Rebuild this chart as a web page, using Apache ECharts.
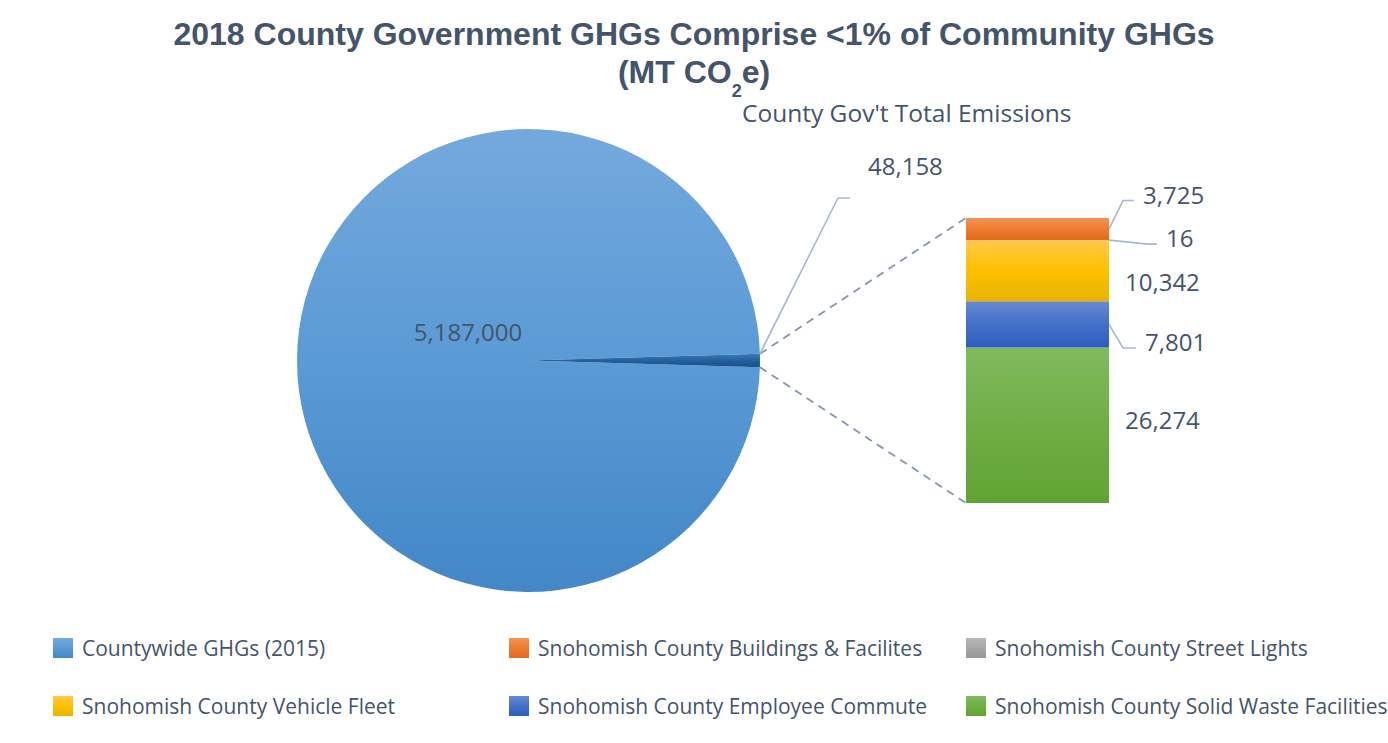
<!DOCTYPE html>
<html>
<head>
<meta charset="utf-8">
<script src="https://cdn.jsdelivr.net/npm/echarts@6/dist/echarts.min.js"></script>
<style>
  html, body { margin: 0; padding: 0; background: #ffffff; }
  #chart { width: 1388px; height: 743px; }
</style>
</head>
<body>
<div id="chart"></div>
<script>
// ---- data -------------------------------------------------------------
const pieNames = ['Countywide GHGs (2015)', "County Gov't Total"];
const pieValues = [5187000, 48158];

// county government breakdown, stacked bottom -> top
const breakdownNames = [
  'Snohomish County Solid Waste Facilities',
  'Snohomish County Employee Commute',
  'Snohomish County Vehicle Fleet',
  'Snohomish County Street Lights',
  'Snohomish County Buildings & Facilites'
];
const breakdownValues = [26274, 7801, 10342, 16, 3725];

const legendOrder = [
  'Countywide GHGs (2015)',
  'Snohomish County Buildings & Facilites',
  'Snohomish County Street Lights',
  'Snohomish County Vehicle Fleet',
  'Snohomish County Employee Commute',
  'Snohomish County Solid Waste Facilities'
];

const titleText = '2018 County Government GHGs Comprise <1% of Community GHGs';
const titleUnit = '(MT CO{sub|2}e)';
const barTitle = "County Gov't Total Emissions";

// ---- styling ----------------------------------------------------------
const TEXT = '#44546A';
const NUM_FONT = 'Open Sans';
const fmt = v => Number(v).toLocaleString('en-US');

const vgrad = stops => new echarts.graphic.LinearGradient(0, 0, 0, 1,
  stops.map(([offset, color]) => ({ offset, color })));

const pieFills = [
  vgrad([[0, '#74A9DD'], [0.5, '#5A9AD5'], [1, '#4387C7']]),
  vgrad([[0, '#3C7AB9'], [0.5, '#22609E'], [1, '#1A4E86']])
];
const barFills = [
  vgrad([[0, '#81BA5F'], [0.5, '#70AE44'], [1, '#61A333']]),   // solid waste
  vgrad([[0, '#6689D3'], [0.5, '#4470C8'], [1, '#2D5DBD']]),   // commute
  vgrad([[0, '#FFC94A'], [0.5, '#FFC000'], [1, '#E7B300']]),   // fleet
  vgrad([[0, '#B8B8B8'], [1, '#969696']]),                      // street lights
  vgrad([[0, '#F3935A'], [0.5, '#EE7C30'], [1, '#E4691B']])    // buildings
];

// label placement next to each stacked block: [dx, dy] from the block's right-middle
const barLabelOffsets = [[0, -6], [20, 17], [0, 10.5], [41, -2.5], [18, -35]];
// leader knee distance from the bar edge (null = no leader)
const barLeaderKnee = [null, 14, null, 39, 14];
const BAR_LABEL_GAP = 16;

const PIE_CX = 528.5, PIE_CY = 360.5, PIE_R = 231.5;
const GRID = { left: 966, top: 218, width: 143, height: 285 };

const pieTotal = pieValues.reduce((a, b) => a + b, 0);
const govHalfAngle = pieValues[1] / pieTotal * 180;   // degrees
const breakdownTotal = breakdownValues.reduce((a, b) => a + b, 0);

const bigLabelPos = [PIE_CX - 60.5, PIE_CY - 29.5];
const govLabelPos = [868, 165];

// ---- chart ------------------------------------------------------------
const chart = echarts.init(document.getElementById('chart'), null, { renderer: 'svg' });

const legendSlots = [[53, 645], [509, 645], [966, 645], [53, 703], [509, 703], [966, 703]];

const option = {
  animation: false,
  backgroundColor: '#ffffff',
  title: [
    {
      text: titleText + '\n' + titleUnit,
      left: 'center',
      top: 14.5,
      padding: [0, 0, 0, 8],
      textStyle: {
        fontFamily: 'Liberation Sans, Arial, sans-serif',
        fontSize: 32,
        fontWeight: 'bold',
        color: TEXT,
        lineHeight: 38,
        rich: {
          sub: {
            fontFamily: 'Liberation Sans, Arial, sans-serif',
            fontSize: 18,
            fontWeight: 'bold',
            color: TEXT,
            lineHeight: 18,
            padding: [38, 0, 0, 0]
          }
        }
      }
    },
    {
      text: barTitle,
      left: 742,
      top: 97,
      padding: 0,
      textStyle: {
        fontFamily: NUM_FONT,
        fontSize: 24.5,
        fontWeight: 'normal',
        color: TEXT,
        lineHeight: 30
      }
    }
  ],
  legend: legendOrder.map((name, i) => ({
    data: [name],
    left: legendSlots[i][0],
    top: legendSlots[i][1] - 7.5,
    padding: 0,
    itemGap: 0,
    itemWidth: 20,
    itemHeight: 20,
    icon: 'rect',
    selectedMode: false,
    textStyle: {
      fontFamily: NUM_FONT,
      fontSize: 21,
      color: TEXT,
      padding: [0, 0, 14, 4]
    }
  })),
  grid: {
    left: GRID.left, top: GRID.top, width: GRID.width, height: GRID.height,
    outerBoundsMode: 'none'
  },
  xAxis: { type: 'category', data: ['gov'], show: false },
  yAxis: { type: 'value', min: 0, max: breakdownTotal, show: false },
  series: [
    {
      type: 'pie',
      center: [PIE_CX, PIE_CY],
      radius: PIE_R,
      startAngle: -govHalfAngle,
      clockwise: true,
      avoidLabelOverlap: false,
      emphasis: { disabled: true },
      label: {
        show: true,
        formatter: p => fmt(p.value),
        fontFamily: NUM_FONT,
        fontSize: 24,
        color: TEXT
      },
      labelLine: { show: false },
      labelLayout: p => p.dataIndex === 0
        ? { x: bigLabelPos[0], y: bigLabelPos[1], align: 'center', verticalAlign: 'middle' }
        : { x: govLabelPos[0], y: govLabelPos[1], align: 'left', verticalAlign: 'middle' },
      data: pieNames.map((name, i) => ({
        name,
        value: pieValues[i],
        itemStyle: { color: pieFills[i], borderWidth: 0 },
        label: { position: i === 0 ? 'inside' : 'outside' }
      }))
    },
    ...breakdownNames.map((name, i) => ({
      type: 'bar',
      name,
      stack: 'gov',
      barWidth: '100%',
      barCategoryGap: 0,
      emphasis: { disabled: true },
      itemStyle: { color: barFills[i] },
      label: {
        show: true,
        position: 'right',
        distance: BAR_LABEL_GAP,
        offset: barLabelOffsets[i],
        formatter: p => fmt(p.value),
        fontFamily: NUM_FONT,
        fontSize: 24,
        color: TEXT
      },
      data: [breakdownValues[i]]
    }))
  ]
};

chart.setOption(option);

// ---- connectors & leader lines, from the laid-out coordinates -----------
function drawConnectors() {
  const rect = chart.getModel().getComponent('grid', 0).coordinateSystem.getRect();
  const barLeft = rect.x, barRight = rect.x + rect.width;
  const yOf = v => chart.convertToPixel({ yAxisIndex: 0 }, v);

  const a = govHalfAngle * Math.PI / 180;
  const edgeTop = [PIE_CX + PIE_R * Math.cos(a), PIE_CY - PIE_R * Math.sin(a)];
  const edgeBot = [PIE_CX + PIE_R * Math.cos(a), PIE_CY + PIE_R * Math.sin(a)];

  const leaderStyle = { stroke: '#AAB8CB', lineWidth: 1.6, fill: null };
  const dashStyle = { stroke: '#8596B0', lineWidth: 1.8, lineDash: [8, 6], fill: null };

  const elements = [
    { type: 'polyline', silent: true, shape: { points: [edgeTop, [barLeft, yOf(breakdownTotal)]] }, style: dashStyle },
    { type: 'polyline', silent: true, shape: { points: [edgeBot, [barLeft, yOf(0)]] }, style: dashStyle },
    {
      type: 'polyline', silent: true,
      shape: { points: [edgeTop, [govLabelPos[0] - 30, govLabelPos[1] + 33], [govLabelPos[0] - 18, govLabelPos[1] + 33]] },
      style: leaderStyle
    }
  ];

  let base = 0;
  breakdownValues.forEach((v, i) => {
    const mid = yOf(base + v / 2);
    base += v;
    if (barLeaderKnee[i] == null) return;
    const labelY = mid + barLabelOffsets[i][1];
    const labelLeft = barRight + BAR_LABEL_GAP + barLabelOffsets[i][0];
    elements.push({
      type: 'polyline', silent: true,
      shape: { points: [[barRight, mid], [barRight + barLeaderKnee[i], labelY + 6.5], [labelLeft - 9, labelY + 6.5]] },
      style: leaderStyle
    });
  });

  chart.setOption({ graphic: { elements } });
}
drawConnectors();
</script>
</body>
</html>
